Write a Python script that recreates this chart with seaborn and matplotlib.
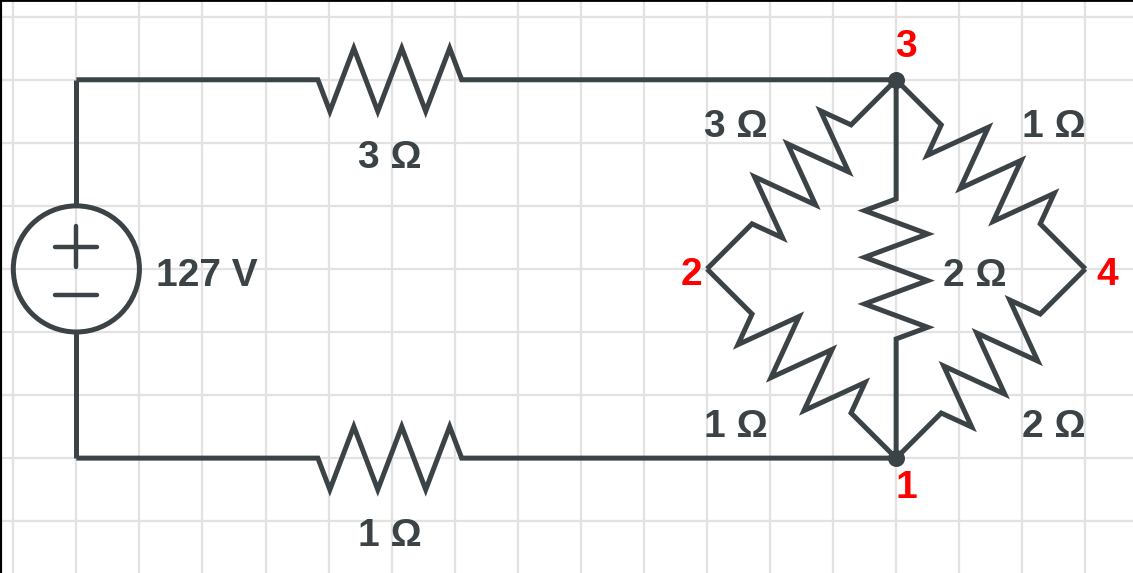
import numpy as np
import matplotlib
matplotlib.use("Agg")
import matplotlib.pyplot as plt
from matplotlib.patches import Circle
import seaborn as sns

# grid units: one grid square = 1
WIRE = "#3b4347"
RED = "#ff0000"

# nodes of the bridge
node_names = ["1", "2", "3", "4"]
node_x = [14, 11, 14, 17]
node_y = [7, 4, 1, 4]

# resistors: start point, end point, body centre, value
res_start = [(1, 1), (1, 7), (14, 1), (14, 1), (14, 1), (11, 4), (17, 4)]
res_end = [(14, 1), (14, 7), (11, 4), (17, 4), (14, 7), (14, 7), (14, 7)]
res_center = [(5.97, 1), (5.97, 7), (12.5, 2.5), (15.5, 2.5), (14, 4), (12.5, 5.5), (15.5, 5.5)]
res_values = ["3 Ω", "1 Ω", "3 Ω", "1 Ω", "2 Ω", "1 Ω", "2 Ω"]
res_label_x = [5.97, 5.97, 11.46, 16.5, 15.25, 11.46, 16.5]
res_label_y = [2.40, 8.40, 1.90, 1.90, 4.27, 6.66, 6.66]

source_value = "127 V"
node_label_x = [14.16, 10.76, 14.16, 17.35]
node_label_y = [7.64, 4.255, 0.634, 4.255]


def zigzag(p0, p1, center, length=2.25, amp=0.5, n=6):
    p0, p1, c = np.array(p0, float), np.array(p1, float), np.array(center, float)
    d = (p1 - p0) / np.linalg.norm(p1 - p0)
    nrm = np.array([-d[1], d[0]])
    a = c - d * length / 2
    b = c + d * length / 2
    pts = [p0, a]
    for k in range(n):
        sign = 1 if k % 2 == 0 else -1
        pts.append(a + d * length * (k + 0.5) / n + nrm * amp * sign)
    pts += [b, p1]
    return np.array(pts)


sns.set_theme(style="whitegrid")
plt.rcParams["font.family"] = ["Liberation Sans", "DejaVu Sans"]

fig = plt.figure(figsize=(11.33, 5.73), dpi=100)
ax = fig.add_axes([0, 0, 1, 1])
u = 63.06
ax.set_xlim(-13.3 / u, (1133 - 13.3) / u)
ax.set_ylim((573 - 16.7) / u, -16.7 / u)
ax.set_xticks(range(0, 18))
ax.set_yticks(range(0, 9))
ax.tick_params(length=0, labelbottom=False, labelleft=False)
ax.grid(True, color="#e2e2e2", linewidth=1.6)
ax.set_facecolor("white")
for side in ["right", "bottom"]:
    ax.spines[side].set_visible(False)
ax.spines["top"].set_visible(True)
ax.spines["left"].set_visible(True)
ax.spines["top"].set_color("black")
ax.spines["left"].set_color("black")
ax.spines["top"].set_linewidth(2)
ax.spines["left"].set_linewidth(3)

lw = 3.6
fs = 28
line_kw = dict(color=WIRE, lw=lw, solid_joinstyle="miter", solid_capstyle="butt")

# voltage source
ax.add_patch(Circle((1, 4), 1, fill=False, edgecolor=WIRE, lw=lw))
ax.plot([1, 1], [1, 3], **line_kw)
ax.plot([1, 1], [5, 7], **line_kw)
ax.plot([0.665, 1.335], [3.645, 3.645], color=WIRE, lw=3.2)
ax.plot([1, 1], [3.32, 3.97], color=WIRE, lw=3.2)
ax.plot([0.665, 1.335], [4.41, 4.41], color=WIRE, lw=3.2)
ax.text(2.27, 4.27, source_value, fontsize=fs, fontweight="bold", color=WIRE,
        ha="left", va="baseline")

# resistors
for p0, p1, c, lbl, lx, ly in zip(res_start, res_end, res_center, res_values,
                                   res_label_x, res_label_y):
    length = 2.28 if p0[1] == p1[1] else 2.22
    pts = zigzag(p0, p1, c, length=length)
    ax.plot(pts[:, 0], pts[:, 1], **line_kw)
    ax.text(lx, ly, lbl, fontsize=fs, fontweight="bold", color=WIRE,
            ha="center", va="baseline")

# junction dots at nodes 1 and 3
sns.scatterplot(x=[node_x[0], node_x[2]], y=[node_y[0], node_y[2]], s=150,
                color=WIRE, edgecolor=WIRE, linewidth=0, ax=ax, zorder=5)

for name, lx, ly in zip(node_names, node_label_x, node_label_y):
    ax.text(lx, ly, name, fontsize=fs, fontweight="bold", color=RED,
            ha="center", va="baseline")

fig.savefig("out.png", dpi=100)
